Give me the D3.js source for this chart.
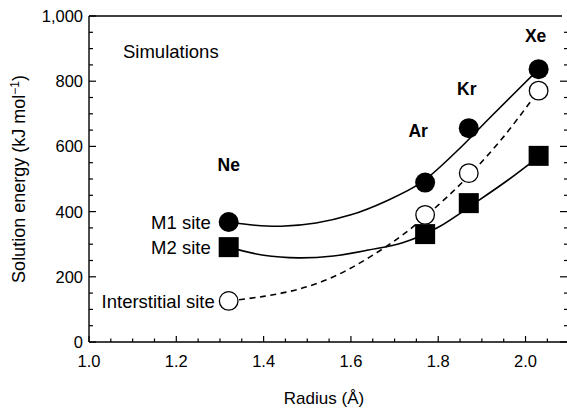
<!DOCTYPE html>
<html>
<head>
<meta charset="utf-8">
<script src="https://cdn.jsdelivr.net/npm/d3@7"></script>
<style>
  body { margin: 0; background: #fff; }
  svg { display: block; font-family: "Liberation Sans", Arial, sans-serif; }
</style>
</head>
<body>
<svg width="567" height="411"></svg>
<script>
// element radii (Å) and the three sites
var elements = ["Ne", "Ar", "Kr", "Xe"];
var radii = [1.32, 1.77, 1.87, 2.03];
var m1Energy = [368, 489, 656, 837];
var m2Energy = [291, 331, 426, 571];
var interEnergy = [126, 390, 518, 771];
var siteNames = ["M1 site", "M2 site", "Interstitial site"];

// fitted curves
var m1FitX = [1.32, 1.38, 1.44, 1.52, 1.60, 1.68, 1.76, 1.84, 1.92, 2.03];
var m1FitY = [368, 358, 355, 365, 390, 432, 488, 582, 690, 837];
var m2FitX = [1.32, 1.40, 1.48, 1.56, 1.64, 1.72, 1.80, 1.89, 1.96, 2.03];
var m2FitY = [291, 266, 258, 264, 282, 305, 352, 432, 497, 568];
var interFitX = [1.32, 1.40, 1.48, 1.56, 1.64, 1.72, 1.80, 1.87, 1.95, 2.03];
var interFitY = [126, 140, 162, 200, 258, 330, 420, 510, 630, 771];

var xTicks = [1.0, 1.2, 1.4, 1.6, 1.8, 2.0];
var yTicks = [0, 200, 400, 600, 800, 1000];

function main(){
    var svg = d3.select("svg");

    var x = d3.scaleLinear().domain([1.0, 2.095]).range([89, 567]),
        y = d3.scaleLinear().domain([0, 1000]).range([342, 16]);

    var minorX = d3.range(1.0, 2.06, 0.05),
        minorY = d3.range(0, 1001, 50);

    // bottom axis
    svg.append("line").attr("x1", 89).attr("x2", 567)
        .attr("y1", y(0)).attr("y2", y(0))
        .attr("stroke", "#000").attr("stroke-width", 1.4);
    svg.selectAll(".xminor").data(minorX).enter().append("line")
        .attr("x1", function(d){ return x(d); }).attr("x2", function(d){ return x(d); })
        .attr("y1", y(0)).attr("y2", function(d, i){ return y(0) - (i % 4 == 0 ? 6 : 3.5); })
        .attr("stroke", "#000").attr("stroke-width", 1.2);
    svg.selectAll(".xlab").data(xTicks).enter().append("text")
        .attr("x", function(d){ return x(d); }).attr("y", 367)
        .attr("text-anchor", "middle").attr("font-size", 16.5)
        .text(function(d){ return d3.format(".1f")(d); });

    // left axis
    svg.append("line").attr("x1", 89).attr("x2", 89)
        .attr("y1", y(0)).attr("y2", y(1000))
        .attr("stroke", "#000").attr("stroke-width", 1.4);
    svg.selectAll(".yminor").data(minorY).enter().append("line")
        .attr("x1", 89).attr("x2", function(d, i){ return 89 + (i % 4 == 0 ? 7 : 4); })
        .attr("y1", function(d){ return y(d); }).attr("y2", function(d){ return y(d); })
        .attr("stroke", "#000").attr("stroke-width", 1.2);
    svg.selectAll(".ylab").data(yTicks).enter().append("text")
        .attr("x", 83).attr("y", function(d){ return y(d); }).attr("dy", "0.36em")
        .attr("text-anchor", "end").attr("font-size", 16.5)
        .text(function(d){ return d3.format(",")(d); });

    // top frame line and right ticks (right edge is cut off)
    svg.append("line").attr("x1", 89).attr("x2", 562)
        .attr("y1", y(1000)).attr("y2", y(1000))
        .attr("stroke", "#000").attr("stroke-width", 1.4);
    svg.selectAll(".rminor").data(minorY.slice(0, -1)).enter().append("line")
        .attr("x1", function(d, i){ return i % 4 == 0 ? 560 : 564; }).attr("x2", 567)
        .attr("y1", function(d){ return y(d); }).attr("y2", function(d){ return y(d); })
        .attr("stroke", "#000").attr("stroke-width", 1.2);

    // axis titles
    svg.append("text").attr("x", 324).attr("y", 404)
        .attr("text-anchor", "middle").attr("font-size", 17)
        .text("Radius (Å)");
    var yt = svg.append("text")
        .attr("transform", "translate(25,179) rotate(-90)")
        .attr("text-anchor", "middle").attr("font-size", 18);
    yt.append("tspan").text("Solution energy (kJ mol");
    yt.append("tspan").attr("dy", -6).attr("font-size", 12).text("−1");
    yt.append("tspan").attr("dy", 6).text(")");

    // fitted curves
    var line = d3.line()
        .x(function(d){ return x(d[0]); })
        .y(function(d){ return y(d[1]); })
        .curve(d3.curveCatmullRom);

    svg.append("path").datum(d3.zip(m1FitX, m1FitY)).attr("d", line)
        .attr("fill", "none").attr("stroke", "#000").attr("stroke-width", 1.6);
    svg.append("path").datum(d3.zip(m2FitX, m2FitY)).attr("d", line)
        .attr("fill", "none").attr("stroke", "#000").attr("stroke-width", 1.6);
    svg.append("path").datum(d3.zip(interFitX, interFitY)).attr("d", line)
        .attr("fill", "none").attr("stroke", "#000").attr("stroke-width", 1.6)
        .attr("stroke-dasharray", "6,4.5");

    // markers
    svg.selectAll(".m1").data(d3.zip(radii, m1Energy)).enter().append("circle")
        .attr("cx", function(d){ return x(d[0]); }).attr("cy", function(d){ return y(d[1]); })
        .attr("r", 10).attr("fill", "#000");
    svg.selectAll(".m2").data(d3.zip(radii, m2Energy)).enter().append("rect")
        .attr("x", function(d){ return x(d[0]) - 10; }).attr("y", function(d){ return y(d[1]) - 10; })
        .attr("width", 20).attr("height", 20).attr("fill", "#000");
    svg.selectAll(".int").data(d3.zip(radii, interEnergy)).enter().append("circle")
        .attr("cx", function(d){ return x(d[0]); }).attr("cy", function(d){ return y(d[1]); })
        .attr("r", 9.3).attr("fill", "#fff").attr("stroke", "#000").attr("stroke-width", 1.3);

    // site labels, to the left of the Ne markers
    var firstVals = [m1Energy[0], m2Energy[0], interEnergy[0]];
    var labelGap = [18, 18, 14];
    svg.selectAll(".site").data(siteNames).enter().append("text")
        .attr("x", function(d, i){ return x(radii[0]) - labelGap[i]; })
        .attr("y", function(d, i){ return y(firstVals[i]); }).attr("dy", "0.36em")
        .attr("text-anchor", "end").attr("font-size", 18.5)
        .text(function(d){ return d; });

    // element labels above the M1 markers
    var labelDx = [0, -7, -2, -3],
        labelDy = [-51, -46, -33, -27];
    svg.selectAll(".el").data(elements).enter().append("text")
        .attr("x", function(d, i){ return x(radii[i]) + labelDx[i]; })
        .attr("y", function(d, i){ return y(m1Energy[i]) + labelDy[i]; })
        .attr("text-anchor", "middle").attr("font-size", 17.5).attr("font-weight", "bold")
        .text(function(d){ return d; });

    svg.append("text").attr("x", 123).attr("y", 58)
        .attr("font-size", 18.5).text("Simulations");
}
main();
</script>
</body>
</html>
